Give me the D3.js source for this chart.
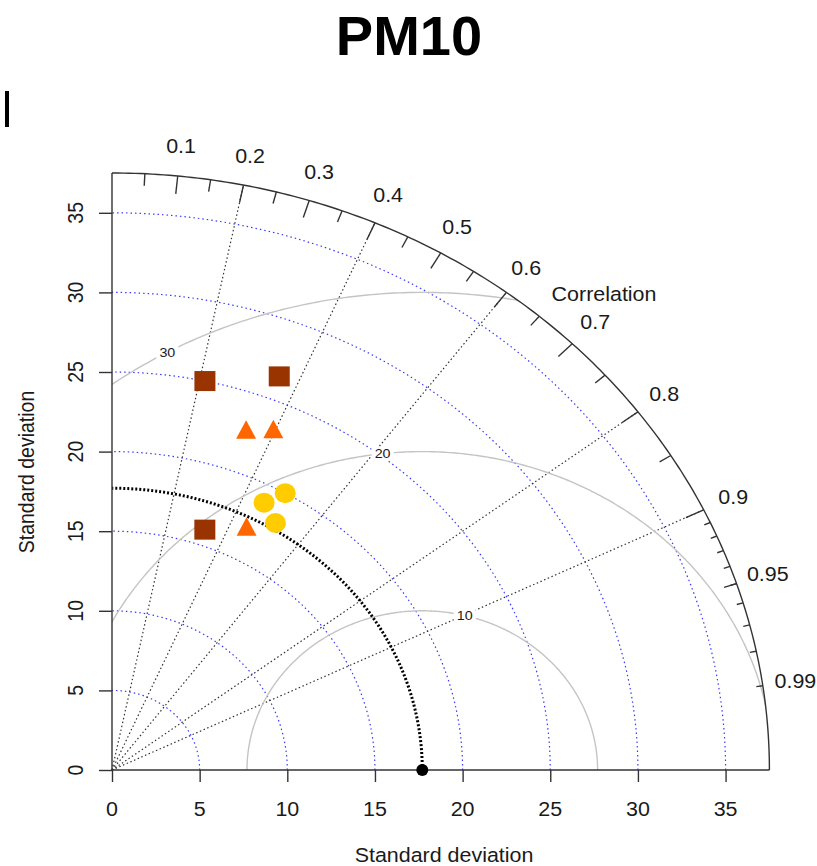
<!DOCTYPE html>
<html>
<head>
<meta charset="utf-8">
<script src="https://cdn.jsdelivr.net/npm/d3@7"></script>
<style>
  body { margin: 0; background: #fff; }
  text { font-family: "Liberation Sans", Arial, sans-serif; fill: #1a1a1a; }
</style>
</head>
<body>
<svg id="chart" width="817" height="866"></svg>
<script>
// chart values
var refSd = 17.7;
var sdTicks = [0, 5, 10, 15, 20, 25, 30, 35];
var sdArcs = [5, 10, 15, 20, 25, 30, 35];
var corLabels = [0.1, 0.2, 0.3, 0.4, 0.5, 0.6, 0.7, 0.8, 0.9, 0.95, 0.99];
var corLines = [0.2, 0.4, 0.6, 0.8, 0.9];
var rmsLevels = [10, 20, 30];
var rmsLabelAngles = [76, 96.5, 119];

var squareSd = [25.0, 26.5, 16.0];
var squareCor = [0.212, 0.360, 0.331];
var triangleSd = [22.7, 23.3, 17.1];
var triangleCor = [0.337, 0.395, 0.449];
var circleSd = [18.9, 20.0, 18.1];
var circleCor = [0.459, 0.494, 0.515];

var maxSd = 37.5;

var svg = d3.select("#chart");

var x = d3.scaleLinear().domain([0, maxSd]).range([112, 769.4]);
var y = d3.scaleLinear().domain([0, maxSd]).range([770, 173]);

var polar = function(sd, cor){
  return [x(sd * cor), y(sd * Math.sqrt(1 - cor * cor))];
};

var line = d3.line();
var angles = d3.range(0, 90.5, 0.5).map(function(a){ return a * Math.PI / 180; });

var arcPath = function(r){
  return line(angles.map(function(a){ return [x(r * Math.cos(a)), y(r * Math.sin(a))]; }));
};

var label = function(g, px, py, txt, size, rot){
  return g.append("text")
    .attr("transform", "translate(" + px + "," + py + ") scale(1.1,1)" + (rot ? " rotate(" + rot + ")" : ""))
    .attr("text-anchor", "middle")
    .attr("dy", "0.35em")
    .style("font-size", size + "px")
    .text(txt);
};

// title and the little cursor mark
svg.append("text")
  .attr("x", 409).attr("y", 55)
  .attr("text-anchor", "middle")
  .style("font-size", "56px").style("font-weight", "bold").style("fill", "#000")
  .text("PM10");
svg.append("rect").attr("x", 5).attr("y", 91).attr("width", 4).attr("height", 36).attr("fill", "#000");

// clip to the quarter disc
svg.append("clipPath").attr("id", "quarter")
  .append("path")
  .attr("d", arcPath(maxSd) + "L" + x(0) + "," + y(0) + "Z");

var grid = svg.append("g");

// sd arcs (blue dotted)
grid.selectAll(".sdarc").data(sdArcs).enter().append("path")
  .attr("d", arcPath)
  .attr("fill", "none")
  .attr("stroke", "#3a3aff")
  .attr("stroke-width", 1.2)
  .attr("stroke-dasharray", "1.5,3");

// correlation rays
grid.selectAll(".ray").data(corLines).enter().append("line")
  .attr("x1", x(0)).attr("y1", y(0))
  .attr("x2", function(c){ return polar(maxSd, c)[0]; })
  .attr("y2", function(c){ return polar(maxSd, c)[1]; })
  .attr("stroke", "#333")
  .attr("stroke-width", 1.2)
  .attr("stroke-dasharray", "1.5,2.5");

// rms contours round the reference point
var halfAngles = d3.range(0, 180.5, 0.5).map(function(a){ return a * Math.PI / 180; });
var rms = svg.append("g").attr("clip-path", "url(#quarter)");
rms.selectAll(".rms").data(rmsLevels).enter().append("path")
  .attr("d", function(r){
    return line(halfAngles.map(function(a){ return [x(refSd + r * Math.cos(a)), y(r * Math.sin(a))]; }));
  })
  .attr("fill", "none")
  .attr("stroke", "#c4c4c4")
  .attr("stroke-width", 1.4);

var rmsLab = svg.append("g");
rmsLevels.forEach(function(r, i){
  var a = rmsLabelAngles[i] * Math.PI / 180;
  var px = x(refSd + r * Math.cos(a)), py = y(r * Math.sin(a));
  rmsLab.append("rect").attr("x", px - 11).attr("y", py - 7).attr("width", 22).attr("height", 14).attr("fill", "#fff");
  label(rmsLab, px, py, r, 13);
});

// reference sd arc
svg.append("path")
  .attr("d", arcPath(refSd))
  .attr("fill", "none")
  .attr("stroke", "#000")
  .attr("stroke-width", 3)
  .attr("stroke-dasharray", "2,2");

// outer arc and correlation ticks
svg.append("path")
  .attr("d", arcPath(maxSd))
  .attr("fill", "none")
  .attr("stroke", "#333")
  .attr("stroke-width", 1.4);

var tickSets = [
  { cors: d3.range(1, 10).map(function(i){ return i / 10; }), len: 0.97 },
  { cors: d3.range(0, 10).map(function(i){ return 0.05 + i / 10; }), len: 0.98 },
  { cors: d3.range(1, 10).map(function(i){ return 0.9 + i / 100; }), len: 0.99 }
];
tickSets.forEach(function(set){
  svg.append("g").selectAll("line").data(set.cors).enter().append("line")
    .attr("x1", function(c){ return polar(maxSd, c)[0]; })
    .attr("y1", function(c){ return polar(maxSd, c)[1]; })
    .attr("x2", function(c){ return polar(maxSd * set.len, c)[0]; })
    .attr("y2", function(c){ return polar(maxSd * set.len, c)[1]; })
    .attr("stroke", "#333")
    .attr("stroke-width", 1.4);
});

var corG = svg.append("g");
corLabels.forEach(function(c){
  var p = polar(maxSd * 1.05, c);
  label(corG, p[0], p[1], c, 19.5);
});
var cl = polar(41, Math.cos(46.8 * Math.PI / 180));
label(corG, cl[0], cl[1], "Correlation", 19.5);

// axes
var xAxis = svg.append("g").attr("transform", "translate(0," + y(0) + ")")
  .call(d3.axisBottom(x).tickValues(sdTicks).tickSize(12).tickFormat(""));
xAxis.select(".domain").attr("d", "M" + x(0) + ",0H" + x(maxSd));
var yAxis = svg.append("g").attr("transform", "translate(" + x(0) + ",0)")
  .call(d3.axisLeft(y).tickValues(sdTicks).tickSize(13).tickFormat(""));
yAxis.select(".domain").attr("d", "M0," + y(0) + "V" + y(maxSd));
svg.selectAll(".domain, .tick line").attr("stroke", "#333").attr("stroke-width", 1.4);

var axLab = svg.append("g");
sdTicks.forEach(function(t){
  label(axLab, x(t), 809, t, 19.5);
  label(axLab, 75, y(t), t, 19.5, -90);
});
label(axLab, 444, 855, "Standard deviation", 19.5);
label(axLab, 26, 472, "Standard deviation", 19.5, -90);

// reference point
svg.append("circle").attr("cx", x(refSd)).attr("cy", y(0)).attr("r", 6).attr("fill", "#000");

// model points
var pts = svg.append("g");
pts.selectAll(".sq").data(d3.zip(squareSd, squareCor)).enter().append("rect")
  .attr("x", function(d){ return polar(d[0], d[1])[0] - 10.5; })
  .attr("y", function(d){ return polar(d[0], d[1])[1] - 10; })
  .attr("width", 21).attr("height", 20)
  .attr("fill", "#993300");

pts.selectAll(".tri").data(d3.zip(triangleSd, triangleCor)).enter().append("path")
  .attr("d", function(d){
    var p = polar(d[0], d[1]);
    return "M" + p[0] + "," + (p[1] - 9.5) + "L" + (p[0] + 10) + "," + (p[1] + 9) + "L" + (p[0] - 10) + "," + (p[1] + 9) + "Z";
  })
  .attr("fill", "#ff6600");

pts.selectAll(".cir").data(d3.zip(circleSd, circleCor)).enter().append("ellipse")
  .attr("cx", function(d){ return polar(d[0], d[1])[0]; })
  .attr("cy", function(d){ return polar(d[0], d[1])[1]; })
  .attr("rx", 10.5).attr("ry", 10)
  .attr("fill", "#ffcc00");
</script>
</body>
</html>
